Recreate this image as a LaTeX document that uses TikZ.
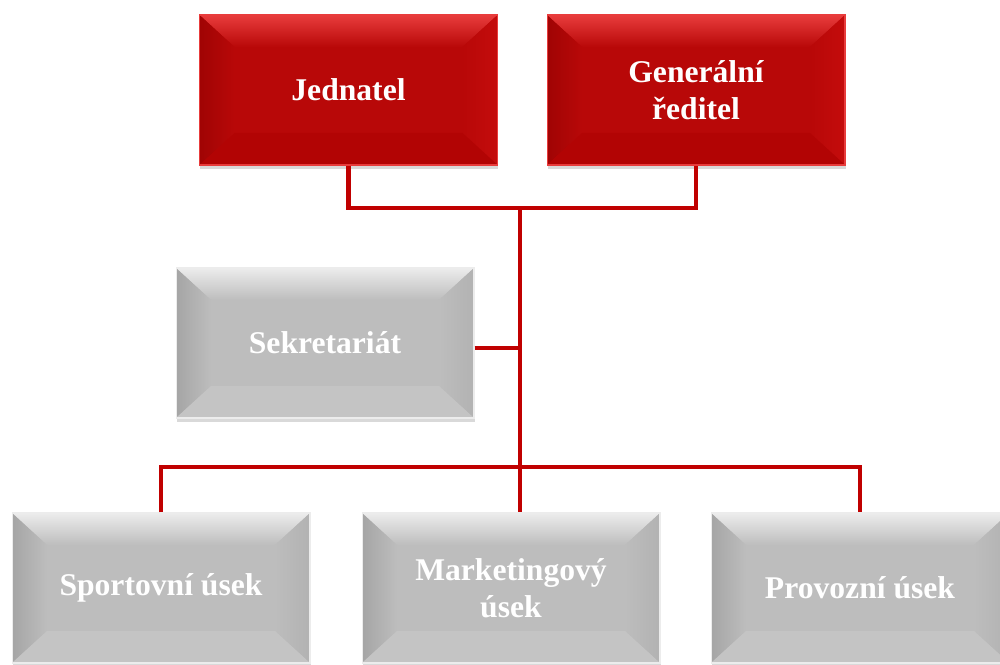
\documentclass[tikz,border=0pt]{standalone}
\usepackage{fontspec}
\setmainfont{Liberation Serif}
\usetikzlibrary{shadows}

\definecolor{linered}{RGB}{192,0,0}
\definecolor{redmain}{RGB}{184,8,8}
\definecolor{redlight}{RGB}{232,60,60}
\definecolor{reddark}{RGB}{160,4,4}
\definecolor{redside}{RGB}{196,12,12}
\definecolor{redlow}{RGB}{178,4,4}
\definecolor{greymain}{RGB}{189,189,189}
\definecolor{greylight}{RGB}{236,236,236}
\definecolor{greydark}{RGB}{165,165,165}
\definecolor{greyside}{RGB}{178,178,178}
\definecolor{greylow}{RGB}{196,196,196}

\begin{document}
\begin{tikzpicture}[x=0.02cm,y=0.02cm,
  bevel/.style n args={5}{path picture={
      \path (path picture bounding box.south west) coordinate (pbsw)
            (path picture bounding box.north east) coordinate (pbne)
            (pbsw |- pbne) coordinate (pbnw)
            (pbne |- pbsw) coordinate (pbse);
      \fill[#1] (pbsw) rectangle (pbne);
      % top, left, right, bottom panels
      \shade[top color=#2, bottom color=#1] (pbnw) -- (pbne) -- ([shift={(-35,-32)}]pbne) -- ([shift={(35,-32)}]pbnw) -- cycle;
      \shade[left color=#3, right color=#1] (pbnw) -- ([shift={(35,-32)}]pbnw) -- ([shift={(35,32)}]pbsw) -- (pbsw) -- cycle;
      \shade[left color=#1, right color=#4] (pbne) -- ([shift={(-35,-32)}]pbne) -- ([shift={(-35,32)}]pbse) -- (pbse) -- cycle;
      \fill[#5] (pbsw) -- ([shift={(35,32)}]pbsw) -- ([shift={(-35,32)}]pbse) -- (pbse) -- cycle;
    }},
  orgbox/.style={rectangle, minimum width=5.96cm, minimum height=3cm, inner sep=2pt,
    align=center, text=white, font=\fontsize{18}{21}\selectfont\bfseries,
    drop shadow={shadow xshift=0.5pt, shadow yshift=-2.5pt, opacity=0.3}},
  redbox/.style={orgbox, draw=redlight, line width=0.6pt,
    bevel={redmain}{redlight}{reddark}{redside}{redlow}},
  greybox/.style={orgbox, draw=greylight, line width=0.6pt,
    bevel={greymain}{greylight}{greydark}{greyside}{greylow}},
  link/.style={draw=linered, line width=2.3pt}]

\useasboundingbox (0,0) rectangle (1000,664);

\node[redbox] (jed) at (348.5,574) {Jednatel};
\node[redbox] (gen) at (696,574) {Generální\\ředitel};
\node[greybox] (sek) at (325,321) {Sekretariát};
\node[greybox] (spo) at (161,76) {Sportovní úsek};
\node[greybox] (mkt) at (511,76) {Marketingový\\úsek};
\node[greybox] (pro) at (860,76) {Provozní úsek};

\coordinate (top) at (520,456);
\coordinate (mid) at (520,197);

\draw[link] (jed.south) -- (jed.south |- top) -- (gen.south |- top) -- (gen.south);
\draw[link] (top) -- (top |- mkt.north);
\draw[link] ([yshift=-3]sek.east) -- ([yshift=-3]sek.east -| top);
\draw[link] (spo.north) |- (mid) -| (pro.north);
\end{tikzpicture}
\end{document}
